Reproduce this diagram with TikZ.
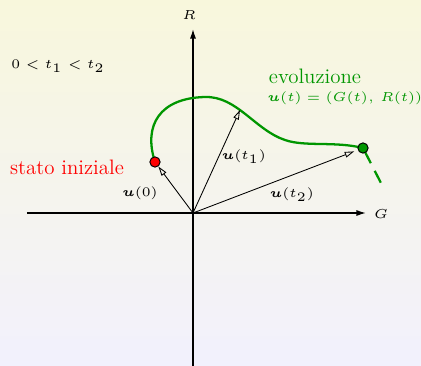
\documentclass[tikz,border=0pt]{standalone}
\usepackage{amsmath,bm,graphicx}
\usetikzlibrary{arrows.meta}
\definecolor{bgtop}{RGB}{248,247,220}
\definecolor{bgbot}{RGB}{242,241,253}
\definecolor{curvegreen}{RGB}{0,150,0}
\newcommand{\tinymath}[1]{\scalebox{1.37}{\fontsize{5}{6}\selectfont$#1$}}
\begin{document}
\begin{tikzpicture}[x=0.5263pt,y=-0.5263pt,
  axis/.style={line width=0.75pt,-{Latex[length=5pt,width=3.2pt]}},
  vec/.style={line width=0.45pt,-{Triangle[open,length=5pt,width=3pt]}},
  lbl/.style={inner sep=0pt},
  dot/.style={circle,draw=black,line width=0.5pt,minimum size=5.4pt,inner sep=0pt},
  traj/.style={curvegreen,line width=1.2pt}
]
\shade[top color=bgtop,bottom color=bgbot] (0,0) rectangle (421,366);
\useasboundingbox (0,0) rectangle (421,366);
% axes
\coordinate (O) at (193,213);
\coordinate (Gs) at (27,213);
\coordinate (Ge) at (366,213);
\coordinate (Rs) at (193,366);
\coordinate (Re) at (193,29);
\draw[axis] (Gs) -- (Ge);
\draw[axis] (Rs) -- (Re);
\node[lbl] (Rlab) at (189,15) {\tinymath{R}};
\node[lbl] (Glab) at (381,214) {\tinymath{G}};
% trajectory
\coordinate (c0) at (155,162);
\coordinate (c2) at (363,148);
\coordinate (cend) at (382,185);
\draw[traj] (c0) .. controls (143,125) and (160,98) .. (205,97)
  .. controls (237,96) and (255,130) .. (285,140)
  .. controls (305,147) and (335,141) .. (c2);
\draw[traj,dash pattern=on 7pt off 4.5pt,dash phase=-2pt] (c2) -- (cend);
\node[dot,fill=red] (P0) at (c0) {};
\node[dot,fill=curvegreen] (P2) at (c2) {};
% vectors
\coordinate (T1) at (240,110);
\draw[vec] (O) -- (P0);
\draw[vec] (O) -- (T1);
\draw[vec,shorten >=2pt] (O) -- (P2);
\node[lbl] (l0) at (140,193) {\tinymath{\bm{u}(0)}};
\node[lbl] (l1) at (244,157) {\tinymath{\bm{u}(t_1)}};
\node[lbl] (l2) at (292,195) {\tinymath{\bm{u}(t_2)}};
% texts
\node[inner sep=0pt,red,font=\fontsize{11}{13}\selectfont] (stato) at (67,167) {stato iniziale};
\node[inner sep=0pt,curvegreen,font=\fontsize{11}{13}\selectfont] (evo) at (315,76) {evoluzione};
\node[lbl,curvegreen] (eq) at (345,98) {\tinymath{\bm{u}(t)=(G(t),\,R(t))}};
\node[lbl] (cond) at (58,66) {\tinymath{0<t_1<t_2}};
\end{tikzpicture}
\end{document}
